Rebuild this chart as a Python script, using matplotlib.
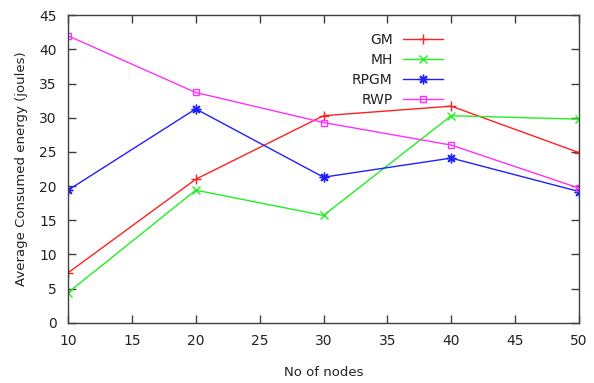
import matplotlib
matplotlib.use("Agg")
import matplotlib.pyplot as plt

nodes = [10, 20, 30, 40, 50]
gm = [7.3, 21.0, 30.3, 31.7, 24.9]
mh = [4.4, 19.4, 15.7, 30.3, 29.8]
rpgm = [19.4, 31.3, 21.3, 24.1, 19.2]
rwp = [42.0, 33.7, 29.3, 26.0, 19.7]
xticks = [10, 15, 20, 25, 30, 35, 40, 45, 50]
yticks = [0, 5, 10, 15, 20, 25, 30, 35, 40, 45]

fig = plt.figure(figsize=(5.94, 3.83), dpi=100)
ax = fig.add_axes([68/594, 1-322.7/383, (579-68)/594, (322.7-15.3)/383])

ax.plot(nodes, gm, color="#ff2020", marker="+", markersize=7, lw=1.0, label="GM")
ax.plot(nodes, mh, color="#20f020", marker="x", markersize=6, lw=1.0, label="MH")
ax.plot(nodes, rpgm, color="#2020ff", marker=(8, 2, 0), markersize=7, lw=1.0, label="RPGM")
ax.plot(nodes, rwp, color="#ff30ff", marker="s", markersize=5, markerfacecolor="none", lw=1.0, label="RWP")

ax.set_xlim(10, 50)
ax.set_ylim(0, 45)
ax.set_xticks(xticks)
ax.set_yticks(yticks)
ax.tick_params(direction="in", top=True, right=True, length=6, width=1, colors="#404040", labelcolor="#222222", labelsize=10, pad=8)
for s in ax.spines.values():
    s.set_color("#404040")
    s.set_linewidth(1.0)
ax.set_xlabel("No of nodes", fontsize=9.5, color="#222222", labelpad=13)
ax.set_ylabel("Average Consumed energy (joules)", fontsize=9.5, color="#222222", labelpad=8)

leg = ax.legend(loc="upper right", bbox_to_anchor=(449/594, 1-27/383), bbox_transform=fig.transFigure,
                frameon=False, markerfirst=False, handlelength=2.9, fontsize=10,
                labelspacing=0.45, handletextpad=0.75, borderaxespad=0)
for t in leg.get_texts():
    t.set_ha("right")
    t.set_color("#222222")

fig.savefig("out.png", dpi=100)
